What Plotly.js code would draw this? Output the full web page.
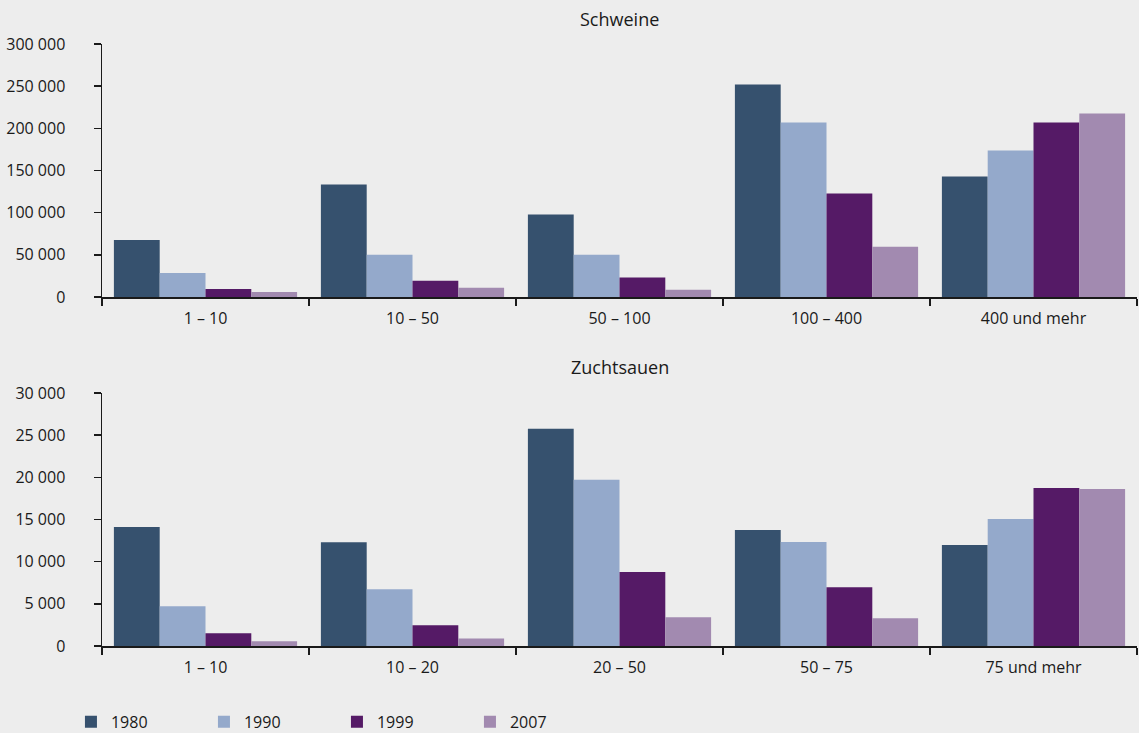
<!DOCTYPE html>
<html>
<head>
<meta charset="utf-8">
<script src="https://cdn.plot.ly/plotly-3.0.1.min.js"></script>
<style>html,body{margin:0;padding:0;background:#ededed;}#chart{width:1139px;height:733px;}</style>
</head>
<body>
<div id="chart"></div>
<script>
const years = ["1980", "1990", "1999", "2007"];
const colors = ["#36516e", "#94a9cb", "#551a66", "#a28ab0"];

const schweineCategories = ["1 – 10", "10 – 50", "50 – 100", "100 – 400", "400 und mehr"];
const schweine1980 = [67500, 133400, 97700, 252100, 142900];
const schweine1990 = [28400, 50200, 50200, 207000, 173800];
const schweine1999 = [9500, 19400, 23000, 122700, 207000];
const schweine2007 = [5900, 11000, 8700, 59700, 217700];

const sauenCategories = ["1 – 10", "10 – 20", "20 – 50", "50 – 75", "75 und mehr"];
const sauen1980 = [14100, 12300, 25750, 13750, 11970];
const sauen1990 = [4720, 6740, 19700, 12320, 15060];
const sauen1999 = [1510, 2460, 8760, 6980, 18740];
const sauen2007 = [560, 900, 3410, 3290, 18620];

const schweineTickVals = [0, 50000, 100000, 150000, 200000, 250000, 300000];
const schweineTickText = ["0", "50 000", "100 000", "150 000", "200 000", "250 000", "300 000"];
const sauenTickVals = [0, 5000, 10000, 15000, 20000, 25000, 30000];
const sauenTickText = ["0", "5 000", "10 000", "15 000", "20 000", "25 000", "30 000"];

const schweineSeries = [schweine1980, schweine1990, schweine1999, schweine2007];
const sauenSeries = [sauen1980, sauen1990, sauen1999, sauen2007];

const traces = [];
years.forEach((yr, i) => {
  traces.push({
    type: "bar", name: yr, x: schweineCategories, y: schweineSeries[i],
    xaxis: "x", yaxis: "y", marker: {color: colors[i], line: {width: 0}},
    legendgroup: yr, showlegend: true
  });
});
years.forEach((yr, i) => {
  traces.push({
    type: "bar", name: yr, x: sauenCategories, y: sauenSeries[i],
    xaxis: "x2", yaxis: "y2", marker: {color: colors[i], line: {width: 0}},
    legendgroup: yr, showlegend: false
  });
});

const fontFam = "Open Sans, Noto Sans, sans-serif";
const xCommon = {
  type: "category", showline: true, linecolor: "#1a1a1a", linewidth: 1.5,
  ticks: "outside", tickson: "boundaries", ticklen: 7, tickcolor: "#1a1a1a", tickwidth: 1.5,
  ticklabelstandoff: 6,
  showgrid: false, zeroline: false, tickfont: {family: fontFam, size: 16, color: "#1a1a1a"},
  fixedrange: true
};
const yCommon = {
  showline: true, linecolor: "#1a1a1a", linewidth: 1.5,
  ticks: "outside", ticklen: 7, tickcolor: "#1a1a1a", tickwidth: 1.5,
  ticklabelstandoff: 25,
  showgrid: false, zeroline: false, tickfont: {family: fontFam, size: 16, color: "#1a1a1a"},
  fixedrange: true
};

const layout = {
  width: 1139, height: 733,
  paper_bgcolor: "#ededed", plot_bgcolor: "#ededed",
  margin: {l: 102, r: 2, t: 44, b: 87, autoexpand: false},
  barmode: "group", bargap: 0.115, bargroupgap: 0,
  font: {family: fontFam, color: "#1a1a1a"},
  xaxis: Object.assign({}, xCommon, {domain: [0, 1], anchor: "y"}),
  yaxis: Object.assign({}, yCommon, {domain: [0.5797, 1], range: [0, 300000], tickvals: schweineTickVals, ticktext: schweineTickText, anchor: "x"}),
  xaxis2: Object.assign({}, xCommon, {domain: [0, 1], anchor: "y2"}),
  yaxis2: Object.assign({}, yCommon, {domain: [0, 0.4203], range: [0, 30000], tickvals: sauenTickVals, ticktext: sauenTickText, anchor: "x2"}),
  showlegend: true,
  legend: {
    orientation: "h", x: -0.03, xanchor: "left", y: -0.126, yanchor: "middle",
    entrywidth: 88, entrywidthmode: "pixels", traceorder: "normal",
    font: {family: fontFam, size: 16, color: "#1a1a1a"}, bgcolor: "rgba(0,0,0,0)"
  },
  annotations: [
    {text: "Schweine", xref: "paper", yref: "paper", x: 0.5, y: 1, yshift: 25, xanchor: "center", yanchor: "middle", showarrow: false, font: {family: fontFam, size: 18, color: "#1a1a1a"}},
    {text: "Zuchtsauen", xref: "paper", yref: "paper", x: 0.5, y: 0.4203, yshift: 26, xanchor: "center", yanchor: "middle", showarrow: false, font: {family: fontFam, size: 18, color: "#1a1a1a"}}
  ]
};

Plotly.newPlot("chart", traces, layout, {staticPlot: true, displayModeBar: false});
</script>
</body>
</html>
